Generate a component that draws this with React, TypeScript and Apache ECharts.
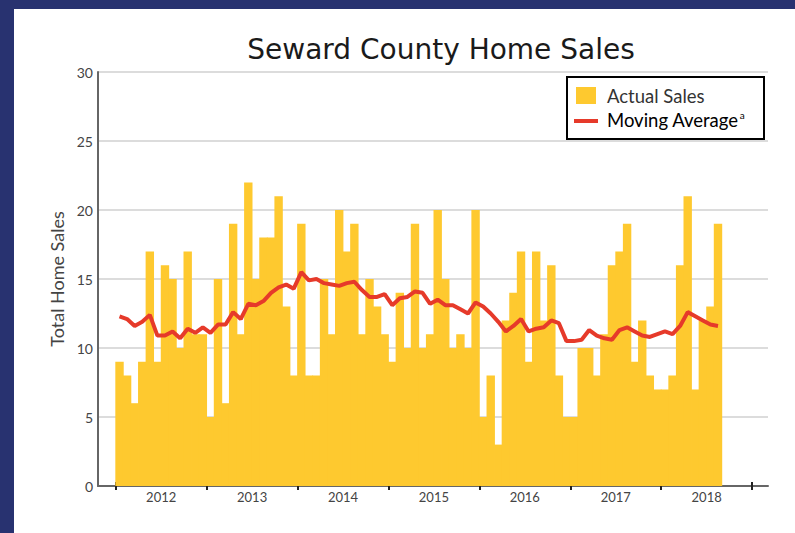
import React, { useEffect, useRef } from "react";
import * as echarts from "echarts";

const years = ["2012", "2013", "2014", "2015", "2016", "2017", "2018"];

const actualSales = [
  9, 8, 6, 9, 17, 9, 16, 15, 10, 17, 11, 11,
  5, 15, 6, 19, 11, 22, 15, 18, 18, 21, 13, 8,
  19, 8, 8, 15, 11, 20, 17, 19, 11, 15, 13, 11,
  9, 14, 10, 19, 10, 11, 20, 15, 10, 11, 10, 20,
  5, 8, 3, 12, 14, 17, 9, 17, 12, 16, 8, 5,
  5, 10, 10, 8, 11, 16, 17, 19, 9, 12, 8, 7,
  7, 8, 16, 21, 7, 12, 13, 19,
];

const movingAverage = [
  12.3, 12.1, 11.6, 11.9, 12.4, 10.9, 10.9, 11.2, 10.7, 11.4, 11.1, 11.5,
  11.1, 11.7, 11.7, 12.6, 12.1, 13.2, 13.1, 13.4, 14.0, 14.4, 14.6, 14.3,
  15.5, 14.9, 15.0, 14.7, 14.6, 14.5, 14.7, 14.8, 14.2, 13.7, 13.7, 13.9,
  13.1, 13.6, 13.7, 14.1, 14.0, 13.2, 13.5, 13.1, 13.1, 12.8, 12.5, 13.3,
  13.0, 12.5, 11.9, 11.2, 11.6, 12.1, 11.2, 11.4, 11.5, 12.0, 11.8, 10.5,
  10.5, 10.6, 11.3, 10.9, 10.7, 10.6, 11.3, 11.5, 11.2, 10.9, 10.8, 11.0,
  11.2, 11.0, 11.6, 12.6, 12.3, 12.0, 11.7, 11.6,
];

const yTicks = [0, 5, 10, 15, 20, 25, 30];

const FONT = "Lato";
const TITLE_FONT = "DejaVu Sans";

export default function App() {
  const ref = useRef<HTMLDivElement>(null);
  useEffect(() => {
    if (!ref.current) return;
    const chart = echarts.init(ref.current, undefined, { renderer: "svg" });
    const barData = actualSales.map((v, i) => [i + 0.5, v]);
    const lineData = movingAverage.map((v, i) => [i + 0.5, v]);
    const yearTicks = years.map((_, i) => i * 12).concat([years.length * 12]);
    const yearLabelPos = years.map((_, i) => i * 12 + 6);
    chart.setOption({
      animation: false,
      backgroundColor: "#ffffff",
      textStyle: { fontFamily: FONT },
      grid: { left: 98, right: 27, top: 72, bottom: 47, containLabel: false },
      xAxis: [
        {
          type: "value",
          min: -2.34,
          max: 86.1,
          axisLine: { show: true, onZero: false, lineStyle: { color: "#666", width: 2 } },
          axisTick: {
            show: true,
            customValues: yearTicks,
            length: 4,
            inside: false,
            lineStyle: { color: "#222", width: 2 },
          },
          axisLabel: {
            show: true,
            customValues: yearLabelPos,
            formatter: (v: number) => years[Math.floor(v / 12)] ?? "",
            color: "#444",
            fontSize: 13,
            fontFamily: FONT,
            margin: 4,
          },
          splitLine: { show: false },
        },
        {
          type: "value",
          position: "bottom",
          min: -2.34,
          max: 86.1,
          axisLine: { show: false, onZero: false },
          axisTick: {
            show: true,
            customValues: yearTicks,
            length: 4,
            inside: true,
            lineStyle: { color: "#222", width: 2 },
          },
          axisLabel: { show: false },
          splitLine: { show: false },
        },
      ],
      yAxis: {
        type: "value",
        min: yTicks[0],
        max: yTicks[yTicks.length - 1],
        interval: 5,
        name: "Total Home Sales",
        nameLocation: "middle",
        nameGap: 32,
        nameTextStyle: { fontSize: 18, color: "#444", fontFamily: FONT },
        axisLine: { show: true, onZero: false, lineStyle: { color: "#666", width: 2 } },
        axisTick: { show: false },
        axisLabel: { color: "#444", fontSize: 14, margin: 5, fontFamily: FONT },
        splitLine: { show: true, lineStyle: { color: "#dcdcdc", width: 2 } },
      },
      series: [
        {
          name: "Actual Sales",
          type: "bar",
          data: barData,
          barWidth: 8.4,
          itemStyle: { color: "#FEC92F" },
        },
        {
          name: "Moving Average",
          type: "line",
          data: lineData,
          symbol: "none",
          lineStyle: { color: "#E63A2A", width: 4 },
          z: 5,
        },
      ],
      graphic: [
        { type: "rect", shape: { x: 0, y: 0, width: 14, height: 533 }, style: { fill: "#283270" } },
        { type: "rect", shape: { x: 0, y: 0, width: 795, height: 9 }, style: { fill: "#283270" } },
        {
          type: "text",
          x: 441,
          y: 49,
          style: {
            text: "Seward County Home Sales",
            fontSize: 28,
            fontFamily: TITLE_FONT,
            fill: "#1a1a1a",
            align: "center",
            verticalAlign: "middle",
          },
        },
        {
          type: "rect",
          z: 10,
          shape: { x: 567, y: 77, width: 197, height: 62 },
          style: { fill: "#fff", stroke: "#000", lineWidth: 2 },
        },
        {
          type: "rect",
          z: 11,
          shape: { x: 576, y: 87, width: 20, height: 17 },
          style: { fill: "#FEC92F" },
        },
        {
          type: "line",
          z: 11,
          shape: { x1: 574, y1: 121, x2: 598, y2: 121 },
          style: { stroke: "#E63A2A", lineWidth: 4 },
        },
        {
          type: "text",
          z: 11,
          x: 607,
          y: 96,
          style: {
            text: "Actual Sales",
            fontSize: 18.5,
            fontFamily: FONT,
            fill: "#333",
            verticalAlign: "middle",
          },
        },
        {
          type: "text",
          z: 11,
          x: 607,
          y: 120,
          style: {
            text: "{m|Moving Average}{s|a}",
            fontFamily: FONT,
            verticalAlign: "middle",
            rich: {
              m: { fontSize: 18.5, fontFamily: FONT, color: "#333" },
              s: { fontSize: 10, fontFamily: FONT, color: "#333", verticalAlign: "top", padding: [0, 0, 10, 1] },
            },
          },
        },
      ],
    });
    return () => chart.dispose();
  }, []);
  return (
    <div
      ref={ref}
      style={{ position: "fixed", left: 0, top: 0, width: 795, height: 533 }}
    />
  );
}
